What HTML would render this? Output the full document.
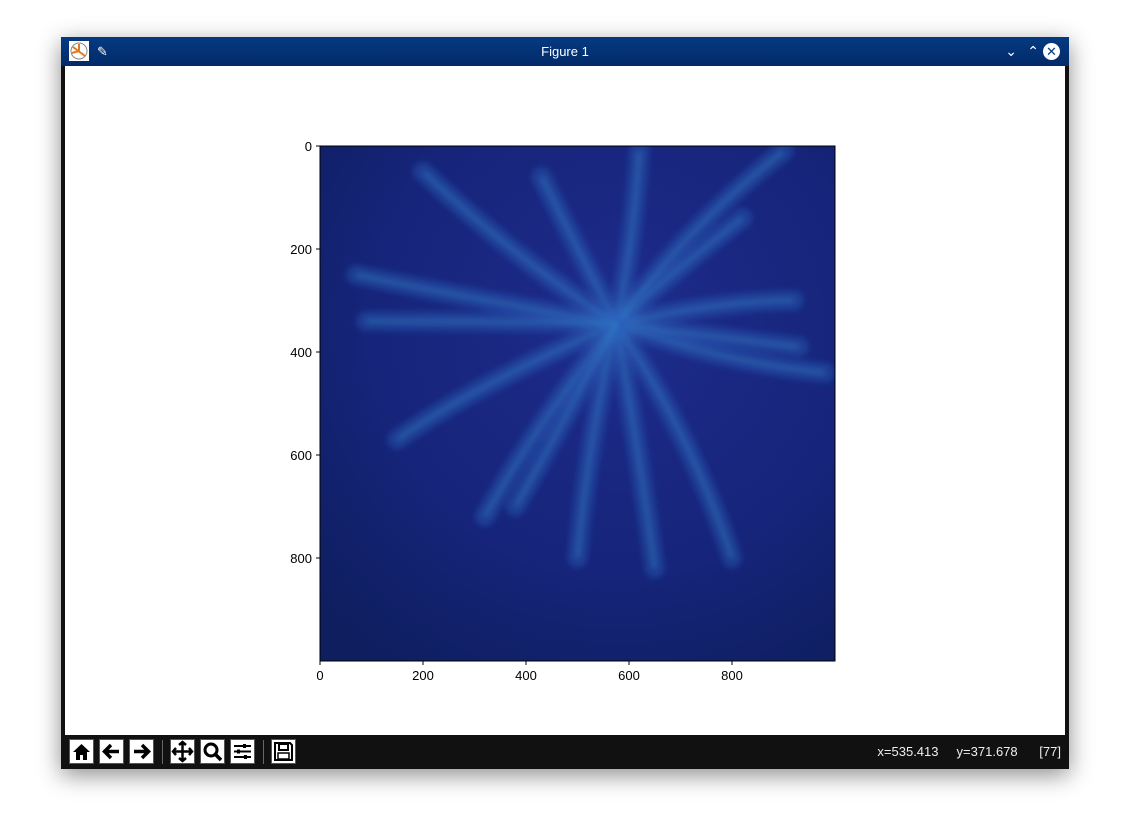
<!DOCTYPE html>
<html><head><meta charset="utf-8"><style>
body{margin:0;width:1130px;height:830px;background:#fff;position:relative;overflow:hidden;font-family:"Liberation Sans","DejaVu Sans",sans-serif}
#win{position:absolute;left:61px;top:37px;width:1008px;height:732px;box-shadow:0 6px 22px rgba(0,0,0,.45);background:#111}
#title{position:absolute;left:0;top:0;width:1008px;height:29px;background:linear-gradient(#043a82,#032a68);color:#fff;font-size:13px;text-align:center;line-height:29px}
#canvas{position:absolute;left:4px;top:29px;width:1000px;height:669px;background:#fff}
#tb{position:absolute;left:0;top:698px;width:1008px;height:34px;background:#111}
.btn{position:absolute;top:4px;width:25px;height:25px;background:#fff;border:1px solid #555;box-sizing:border-box}
#coords{position:absolute;right:8px;top:9px;color:#eee;font-size:13px}
</style></head><body>
<div id="win">
<div id="title">Figure 1
<svg style="position:absolute;left:8px;top:4px" width="20" height="20"><rect width="20" height="20" fill="#fff"/><circle cx="10" cy="10" r="8" fill="none" stroke="#888"/><path d="M4 6L16 15M10 3L10 10M3 12L10 10" stroke="#e67a20" stroke-width="2"/></svg>
<span style="position:absolute;left:36px;top:0">✎</span>
<span style="position:absolute;right:52px;top:0;font-size:14px">⌄</span>
<span style="position:absolute;right:30px;top:0;font-size:14px">⌃</span>
<span style="position:absolute;right:9px;top:6px;width:17px;height:17px;border-radius:50%;background:#fff;color:#043a82;line-height:17px;font-size:13px">✕</span>
</div>
<div id="canvas">
<svg id="chart" width="1000" height="669"></svg>
</div>
<div id="tb">
<div class="btn" style="left:8px"><svg width="23" height="23"><path d="M3 12L11.5 4L20 12H17V20H13V15H10V20H6V12Z" fill="#000"/></svg></div>
<div class="btn" style="left:38px"><svg width="23" height="23"><path d="M19 11.5H6M11 5L4.5 11.5L11 18" stroke="#000" stroke-width="3.5" fill="none"/></svg></div>
<div class="btn" style="left:68px"><svg width="23" height="23"><path d="M4 11.5H17M12 5L18.5 11.5L12 18" stroke="#000" stroke-width="3.5" fill="none"/></svg></div>
<div style="position:absolute;left:101px;top:5px;width:1px;height:24px;background:#666"></div>
<div class="btn" style="left:109px"><svg width="23" height="23"><path d="M11.5 2V21M2 11.5H21M8 5L11.5 2L15 5M8 18L11.5 21L15 18M5 8L2 11.5L5 15M18 8L21 11.5L18 15" stroke="#000" stroke-width="2.5" fill="none"/></svg></div>
<div class="btn" style="left:139px"><svg width="23" height="23"><circle cx="10" cy="10" r="6" stroke="#000" stroke-width="3" fill="none"/><path d="M14 14L20 20" stroke="#000" stroke-width="3.5"/></svg></div>
<div class="btn" style="left:169px"><svg width="23" height="23"><path d="M3 6H20M3 11.5H20M3 17H20" stroke="#000" stroke-width="2"/><rect x="12" y="4" width="3" height="4"/><rect x="6" y="9.5" width="3" height="4"/><rect x="13" y="15" width="3" height="4"/></svg></div>
<div style="position:absolute;left:202px;top:5px;width:1px;height:24px;background:#666"></div>
<div class="btn" style="left:210px"><svg width="23" height="23"><path d="M3 3H18L20 5V20H3Z" stroke="#000" stroke-width="2" fill="none"/><rect x="7" y="4" width="9" height="6" stroke="#000" fill="none" stroke-width="2"/><rect x="6" y="13" width="11" height="6" stroke="#000" fill="none" stroke-width="1.5"/></svg></div>
<div id="coords">x=535.413&nbsp;&nbsp;&nbsp;&nbsp;&nbsp;y=371.678&nbsp;&nbsp;&nbsp;&nbsp;&nbsp;&nbsp;[77]</div>
</div>
</div>
<script>
const xTicks=[0,200,400,600,800];
const yTicks=[0,200,400,600,800];
const center=[575,345];
const armEnds=[[70,250],[150,570],[320,720],[500,800],[650,820],[800,800],[980,440],[930,390],[920,300],[820,140],[620,10],[430,60],[200,50],[900,10],[90,340],[380,700]];
const armCtrl=[[260,290],[290,470],[420,540],[520,570],[620,600],[720,560],[780,420],[760,370],[780,300],[690,240],[610,180],[500,200],[380,220],[720,150],[300,340],[470,540]];
const ox=255,oy=80,sc=515/1000;
const X=v=>ox+v*sc, Y=v=>oy+v*sc;
const svg=document.getElementById('chart');
const NS='http://www.w3.org/2000/svg';
function mk(t,a){const e=document.createElementNS(NS,t);for(const k in a)e.setAttribute(k,a[k]);svg.appendChild(e);return e;}
svg.innerHTML='<defs><radialGradient id="bg" cx="0.58" cy="0.35" r="0.8"><stop offset="0" stop-color="#1e2c8c"/><stop offset="0.6" stop-color="#16247a"/><stop offset="1" stop-color="#0e1e5e"/></radialGradient><filter id="bl"><feGaussianBlur stdDeviation="3"/></filter><clipPath id="cp"><rect x="'+X(0)+'" y="'+Y(0)+'" width="515" height="515"/></clipPath></defs>';
const img=mk('rect',{x:X(0),y:Y(0),width:515,height:515,fill:'url(#bg)'});


const g=mk('g',{'clip-path':'url(#cp)',filter:'url(#bl)'});
armEnds.forEach((e,i)=>{
 const c=armCtrl[i];
 const d=`M${X(center[0])} ${Y(center[1])} Q${X(c[0])} ${Y(c[1])} ${X(e[0])} ${Y(e[1])}`;
 const p=document.createElementNS(NS,'path');
 p.setAttribute('d',d);p.setAttribute('stroke','#2a5fb8');p.setAttribute('stroke-opacity','0.4');p.setAttribute('stroke-width','20');p.setAttribute('fill','none');p.setAttribute('stroke-linecap','round');
 
 
 g.appendChild(p);
 const q=document.createElementNS(NS,'path');
 q.setAttribute('d',d);q.setAttribute('stroke','#3aa0d0');q.setAttribute('stroke-opacity','0.3');q.setAttribute('stroke-width','5');q.setAttribute('fill','none');
 
 
 g.appendChild(q);
});
mk('rect',{x:X(0),y:Y(0),width:515,height:515,fill:'none',stroke:'#000','stroke-width':1});
xTicks.forEach(t=>{
 mk('line',{x1:X(t),x2:X(t),y1:Y(1000),y2:Y(1000)+4,stroke:'#000'});
 const tx=mk('text',{x:X(t),y:Y(1000)+19,'text-anchor':'middle','font-size':13,fill:'#000'});tx.textContent=t;
 
 
});
yTicks.forEach(t=>{
 mk('line',{x1:X(0)-4,x2:X(0),y1:Y(t),y2:Y(t),stroke:'#000'});
 const tx=mk('text',{x:X(0)-8,y:Y(t)+5,'text-anchor':'end','font-size':13,fill:'#000'});tx.textContent=t;
 
 
});
</script>
</body></html>
